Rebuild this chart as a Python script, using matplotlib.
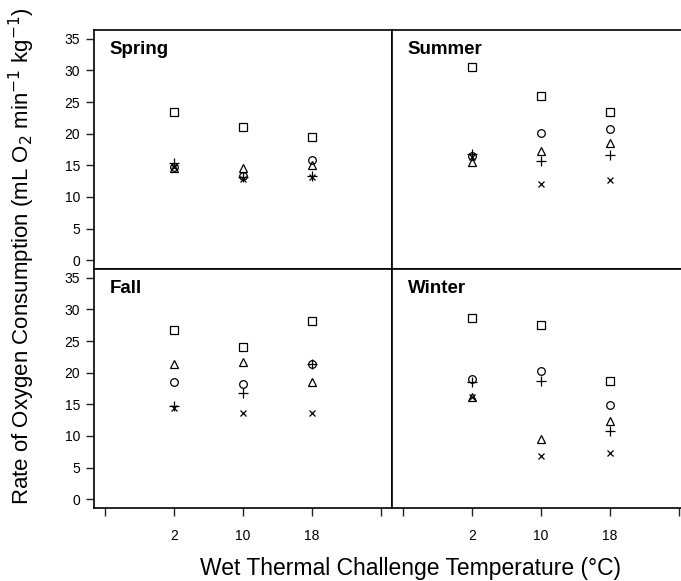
import matplotlib
matplotlib.use("Agg")
import matplotlib.pyplot as plt

plt.rcParams['font.family'] = ['Liberation Sans', 'DejaVu Sans']

temps = ['2', '10', '18']
seasons = ['Spring', 'Summer', 'Fall', 'Winter']
markers = ['s', 'o', '^', '+', 'x']
msizes = [5.5, 5.5, 5.5, 6.5, 5.0]

# rows: square, circle, triangle, plus, cross ; cols: 2, 10, 18 degC
spring = [[23.5, 21.1, 19.4],
          [14.8, 13.3, 15.8],
          [14.5, 14.6, 15.0],
          [15.4, 13.2, 13.3],
          [14.8, 12.9, 13.2]]
summer = [[30.6, 25.9, 23.5],
          [16.4, 20.1, 20.8],
          [15.5, 17.2, 18.6],
          [16.8, 15.7, 16.6],
          [16.3, 12.0, 12.7]]
fall = [[26.7, 24.0, 28.2],
        [18.6, 18.2, 21.3],
        [21.4, 21.7, 18.5],
        [14.8, 16.8, 21.3],
        [14.4, 13.7, 13.6]]
winter = [[28.6, 27.5, 18.7],
          [19.0, 20.2, 14.9],
          [16.2, 9.5, 12.4],
          [18.6, 18.7, 10.7],
          [16.2, 6.8, 7.3]]
season_data = [spring, summer, fall, winter]

yticks = [0, 5, 10, 15, 20, 25, 30, 35]

W, H = 681, 581
fig = plt.figure(figsize=(W / 100, H / 100), dpi=100)
pw, ph = 298, 239
corners = [(94, 30), (392, 30), (94, 269), (392, 269)]

for i, (x0, y0) in enumerate(corners):
    ax = fig.add_axes([x0 / W, 1 - (y0 + ph) / H, pw / W, ph / H])
    data = season_data[i]
    xs = [1, 2, 3]
    for vals, m, ms in zip(data, markers, msizes):
        ax.plot(xs, vals, linestyle='none', marker=m, markersize=ms,
                markerfacecolor='none', markeredgecolor='black', markeredgewidth=0.9,
                color='black')
    ax.set_xlim(-0.16, 4.16)
    ax.set_ylim(-1.4, 36.4)
    for s in ax.spines.values():
        s.set_linewidth(1.2)
    ax.tick_params(direction='out', length=6, width=1, labelsize=10, color='#222222')
    if i % 2 == 0:
        ax.set_yticks(yticks)
        ax.tick_params(axis='y', pad=4)
    else:
        ax.set_yticks([])
    if i >= 2:
        ax.set_xticks([0, 1, 2, 3, 4])
        ax.set_xticklabels([''] + temps + [''])
        ax.tick_params(axis='x', pad=9)
    else:
        ax.set_xticks([])
    ax.text(0.052, 0.918, seasons[i], transform=ax.transAxes, fontsize=13.5,
            fontweight='bold', va='center', ha='left')

fig.text(22 / W, 1 - 256 / H,
         'Rate of Oxygen Consumption (mL O$_2$ min$^{-1}$ kg$^{-1}$)',
         rotation=90, ha='center', va='center', fontsize=16)
fig.text(410 / W, 1 - 568 / H, 'Wet Thermal Challenge Temperature (\u00b0C)',
         ha='center', va='center', fontsize=16.5)

fig.savefig('out.png', dpi=100)
